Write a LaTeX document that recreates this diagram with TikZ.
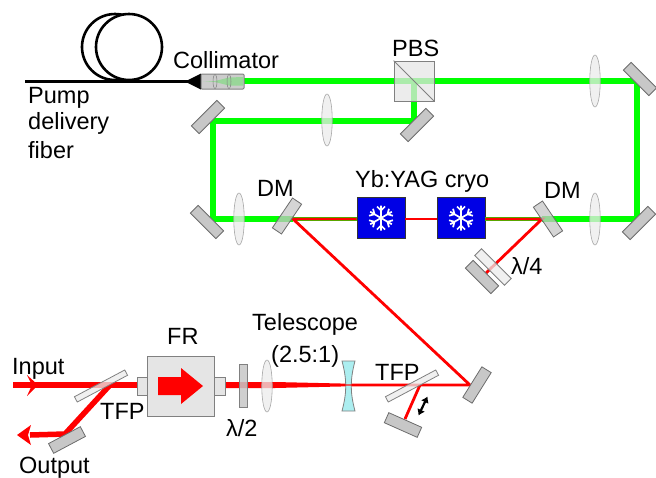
\documentclass[tikz,border=0pt]{standalone}
\usepackage{fontspec}
\setmainfont{Liberation Sans}
\usepackage{tikz}
\usetikzlibrary{arrows.meta, positioning, shapes.geometric, calc}

\definecolor{lenscyan}{RGB}{172,238,240}

\newcommand{\snowflake}[1]{%
  \foreach \a in {0,60,...,300} {
    \draw[white, line width=1.7pt, shift={(#1)}, rotate=\a] (0,0) -- (0,-12.5)
      (-4,-11.5) -- (0,-7.5) -- (4,-11.5);
  }
}

\begin{document}
\begin{tikzpicture}[x=1pt, y=-1pt,
      lab/.style={anchor=base west, inner sep=0pt, font=\fontsize{23.5}{23.5}\selectfont},
      mirror/.style={rectangle, draw=gray!85!black, line width=0.8pt, fill=black!22, minimum width=36pt, minimum height=11pt, inner sep=0pt},
      dm/.style={mirror, fill opacity=0.75},
      plate/.style={rectangle, draw=gray, line width=0.8pt, fill=black!8, fill opacity=0.75, minimum width=57pt, minimum height=6pt, inner sep=0pt},
      lens/.style={ellipse, draw=gray!70, line width=0.6pt, fill=black!8, fill opacity=0.75, minimum width=10.5pt, minimum height=52pt, inner sep=0pt},
      crystal/.style={rectangle, draw=black!80, line width=0.8pt, fill=blue!90!black, minimum width=48pt, minimum height=41pt, inner sep=0pt},
      pump/.style={draw=green, line width=6pt, line join=miter},
      laser/.style={draw=red, line width=2.8pt, line join=miter},
      amp/.style={draw=red, line width=6pt, line join=miter}]

      \useasboundingbox (0,0) rectangle (656,477);

      % Beam corners
      \coordinate (collout) at (244,81);
      \coordinate (pbsc) at (414,81);
      \coordinate (turn1) at (414,121);
      \coordinate (turn2) at (213,121);
      \coordinate (turn3) at (213,219);
      \coordinate (turn4) at (637,219);
      \coordinate (turn5) at (637,81);
      \coordinate (dmleft) at (293,219);
      \coordinate (dmright) at (542,219);
      \coordinate (foldm) at (470,385);
      \coordinate (qwend) at (486,273);
      \coordinate (inbeam) at (13,385);
      \coordinate (tfpa) at (110,385);
      \coordinate (outm) at (65,434);
      \coordinate (outbeam) at (30,435);
      \coordinate (frout) at (225,385);
      \coordinate (taper) at (345,385);
      \coordinate (tfpb) at (420,385);
      \coordinate (backm) at (405,419);

      % Fiber
      \draw[line width=2.6pt] (115,47) circle (33);
      \draw[line width=2.6pt, fill=white] (129,47) circle (33);
      \coordinate (fiberend) at (25,81.5);
      \coordinate (fibertip) at (190,81.5);
      \draw[line width=2.6pt] (fiberend) -- (fibertip);
      \fill (185,81.5) -- (201,73.5) -- (201,89.5) -- cycle;

      % Crystals
      \node[crystal] (yba) at (381,218) {};
      \node[crystal] (ybb) at (461,218) {};
      \snowflake{381,218}
      \snowflake{461,218}

      % Green beam
      \draw[pump] (collout) -- (pbsc) -- (turn5) -- (turn4) -- (dmright);
      \draw[pump] (pbsc) -- (turn1) -- (turn2) -- (turn3) -- (dmleft);
      \draw[pump, line width=4.8pt] (dmleft) -- (yba.west |- dmleft);
      \draw[pump, line width=4.8pt] (ybb.east |- dmright) -- (dmright);

      % Red beams
      \draw[amp] (inbeam) -- (frout);
      \draw[amp, line width=5.5pt] (tfpa) -- (outm) -- (outbeam);
      \fill[red] (225,382) -- (275,382) -- (345,383.6) -- (345,386.4) -- (275,388) -- (225,388) -- cycle;
      \draw[laser] (taper) -- (foldm) -- (dmleft) -- (yba.west |- dmleft);
      \draw[laser] (yba.east |- dmleft) -- (ybb.west |- dmleft);
      \draw[laser] (ybb.east |- dmright) -- (dmright) -- (qwend);
      \draw[laser] (tfpb) -- (backm);

      % Beam arrow heads
      \fill[red] (27,375) -- (38,385) -- (27,396) -- (32,385) -- cycle;
      \fill[red] (17,435) -- (31,425) -- (28,435) -- (31,445) -- cycle;

      % Collimator
      \node[rectangle, rounded corners=1pt, draw=gray, line width=1pt, fill=black!20, minimum width=43pt, minimum height=15pt, inner sep=0pt] (coll) at (222.5,81.5) {};
      \fill[green!60!black!40!white] (203,81) -- (215,81) -- (229,77.5) -- (243,77) -- (243,85.5) -- (229,85.5) -- (215,82) -- cycle;
      \node[ellipse, draw=gray, line width=0.5pt, minimum width=4pt, minimum height=14pt, inner sep=0pt] (colla) at (215,81.5) {};
      \node[ellipse, draw=gray, line width=0.5pt, minimum width=4pt, minimum height=14pt, inner sep=0pt] (collb) at (229,81.5) {};

      % PBS
      \node[rectangle, draw=gray, line width=0.8pt, fill=black!10, fill opacity=0.75, minimum width=40pt, minimum height=40pt, inner sep=0pt] (pbs) at (414,81) {};
      \draw[gray, line width=0.8pt] (pbs.north west) -- (pbs.south east);

      % Mirrors
      \node[mirror, rotate=45] (m1) at (208,117) {};
      \node[mirror, rotate=45] (m2) at (417,125) {};
      \node[mirror, rotate=-45] (m3) at (640,79) {};
      \node[mirror, rotate=-45] (m4) at (207,222) {};
      \node[mirror, rotate=45] (m5) at (639,223) {};
      \node[mirror, rotate=58] (m6) at (477,385) {};
      \node[mirror, rotate=28] (m7) at (67,440) {};
      \node[mirror, rotate=-24] (m8) at (403,425) {};
      \node[mirror, rotate=-45] (m9) at (482,277) {};
      \node[dm, rotate=56] (dma) at (287,216) {};
      \node[dm, rotate=-56] (dmb) at (548,219) {};
      \node[plate, rotate=-45, minimum width=42pt, minimum height=9.5pt] (qwp) at (493,267) {};

      % Lenses
      \node[lens] (l1) at (327,120) {};
      \node[lens] (l2) at (595,81) {};
      \node[lens] (l3) at (239,219) {};
      \node[lens] (l4) at (595,219) {};
      \node[lens] (l5) at (267,386) {};
      \draw[gray, line width=0.8pt, fill=lenscyan] (342,361) -- (355,361) .. controls (350,380) and (350,392) .. (355,411) -- (342,411) .. controls (347,392) and (347,380) .. (342,361) -- cycle;
      \draw[red, line width=2.8pt, opacity=0.6] (342,385) -- (355,385);

      % Faraday rotator
      \node[rectangle, draw=gray, line width=0.8pt, fill=black!10, minimum width=88pt, minimum height=18pt, inner sep=0pt] (frtab) at (181,386) {};
      \node[rectangle, draw=gray, line width=0.8pt, fill=black!10, minimum width=67pt, minimum height=60pt, inner sep=0pt] (fr) at (180.5,386) {};
      \fill[red] (158,377) -- (181,377) -- (181,368) -- (203,386) -- (181,404) -- (181,395) -- (158,395) -- cycle;

      % Plates
      \node[rectangle, draw=gray, line width=0.8pt, fill=black!22, fill opacity=0.85, minimum width=8pt, minimum height=43pt, inner sep=0pt] (hwp) at (243,385.5) {};
      \node[plate, rotate=28] (tfp1) at (101,386) {};
      \node[plate, rotate=28] (tfp2) at (412,386) {};

      % Translation
      \draw[{Latex[length=6pt,width=8.5pt]}-{Latex[length=6pt,width=8.5pt]}, line width=2.2pt] (427.5,396.5) -- (418.5,415.5);

      % Labels
      \node[lab] (tcoll) at (173,68) {Collimator};
      \node[lab] (tpump) at (28,103) {Pump};
      \node[lab] (tdel) at (28,129) {delivery};
      \node[lab] (tfib) at (28,158) {fiber};
      \node[lab] (tpbs) at (392,56) {PBS};
      \node[lab] (tdma) at (257,196) {DM};
      \node[lab] (tyb) at (355,187) {Yb:YAG cryo};
      \node[lab] (tdmb) at (544,198) {DM};
      \node[lab] (tqwp) at (511,274) {λ/4};
      \node[lab] (tin) at (12,374) {Input};
      \node[lab] (tout) at (19,473) {Output};
      \node[lab] (ttfpa) at (100,419) {TFP};
      \node[lab] (tfr) at (167,344) {FR};
      \node[lab] (thwp) at (226,436) {λ/2};
      \node[lab] (ttel) at (252,330) {Telescope};
      \node[lab] (tratio) at (271,362) {(2.5:1)};
      \node[lab] (ttfpb) at (375,380) {TFP};
    \end{tikzpicture}
\end{document}
